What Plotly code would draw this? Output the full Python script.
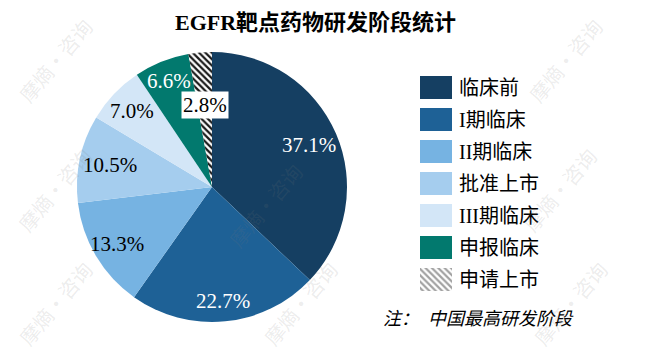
import math
import plotly.graph_objects as go

labels = ["临床前", "I期临床", "II期临床", "批准上市", "III期临床", "申报临床", "申请上市"]
values = [37.1, 22.7, 13.3, 10.5, 7.0, 6.6, 2.8]
colors = ["#153F62", "#1E6196", "#76B3E2", "#A5CDEE", "#D3E6F7", "#02796E", "#FFFFFF"]
text_colors = ["white", "white", "black", "black", "black", "white", "black"]
patterns = ["", "", "", "", "", "", "\\"]

title = "<b>EGFR靶点药物研发阶段统计</b>"
note = "<i>注：  中国最高研发阶段</i>"
watermark = "摩熵·咨询"

FONT = "Liberation Serif, Times New Roman, Noto Sans CJK SC, serif"
W, H = 660, 363
OFF = 8  # page body margin offset of the plot div


def fx(X):
    return (X - OFF) / W


def fy(Y):
    return 1 - (Y - OFF) / H


# pie geometry (screen pixels)
CX, CY, R = 212, 187, 135
label_radius = [0.78, 0.85, 0.82, 0.77, 0.82, 0.85, 0.61]

fig = go.Figure()
fig.add_trace(go.Pie(
    labels=labels,
    values=values,
    sort=False,
    direction="clockwise",
    rotation=0,
    textinfo="none",
    marker=dict(colors=colors, line=dict(width=0),
                pattern=dict(shape=patterns, fgcolor="#1a1a1a", bgcolor="white",
                             size=4.5, solidity=0.5)),
    domain=dict(x=[fx(CX - R), fx(CX + R)], y=[fy(CY + R), fy(CY - R)]),
    hoverinfo="label+value",
    showlegend=False,
))

# legend drawn as swatch bars on a hidden axis
fig.add_trace(go.Bar(
    y=labels,
    x=[1] * len(labels),
    orientation="h",
    width=0.72,
    marker=dict(color=colors, line=dict(width=0),
                pattern=dict(shape=patterns, fgcolor="#1a1a1a", bgcolor="white",
                             size=4.5, solidity=0.5)),
    hoverinfo="skip",
    showlegend=False,
))

annotations = [
    dict(text=title, x=fx(315), y=1.0, xref="paper", yref="paper",
         xanchor="center", yanchor="top",
         showarrow=False, font=dict(family=FONT, size=22, color="black")),
    dict(text=note, x=fx(478), y=fy(319), xref="paper", yref="paper",
         xanchor="center", yanchor="middle",
         showarrow=False, font=dict(family=FONT, size=18, color="black")),
]

total = sum(values)
cum = 0.0
for i, v in enumerate(values):
    mid = (cum + v / 2) / total * 2 * math.pi
    cum += v
    rr = label_radius[i] * R
    x = CX + rr * math.sin(mid)
    y = CY - rr * math.cos(mid)
    ann = dict(text="%.1f%%" % v, x=fx(x), y=fy(y), xref="paper", yref="paper",
               xanchor="center", yanchor="middle",
               showarrow=False, font=dict(family=FONT, size=21, color=text_colors[i]))
    if i == len(values) - 1:
        ann.update(bgcolor="white", borderpad=1)
    annotations.append(ann)

wm_pos = [(55, 60), (55, 190), (55, 303), (265, 205), (300, 303),
          (565, 60), (560, 190), (570, 303)]
for (x, y) in wm_pos:
    annotations.append(dict(text=watermark, x=fx(x), y=fy(y), xref="paper", yref="paper",
                            xanchor="center", yanchor="middle",
                            showarrow=False, textangle=-50,
                            font=dict(family="Noto Sans CJK SC", size=20, color="rgba(120,120,120,0.15)")))

row0, step = 87.5, 32
ytop = row0 - step / 2
ybot = row0 + step * (len(labels) - 1) + step / 2

fig.update_layout(
    width=W, height=H,
    margin=dict(l=0, r=0, t=0, b=0),
    paper_bgcolor="white",
    plot_bgcolor="rgba(0,0,0,0)",
    font=dict(family=FONT, color="black"),
    showlegend=False,
    xaxis=dict(domain=[fx(420), fx(452)], range=[0, 1], visible=False, fixedrange=True),
    yaxis=dict(domain=[fy(ybot), fy(ytop)], type="category",
               categoryorder="array", categoryarray=labels, autorange="reversed",
               side="right", showgrid=False, zeroline=False, showline=False, ticks="",
               ticklabelstandoff=6, tickfont=dict(family=FONT, size=20, color="black"),
               fixedrange=True),
    annotations=annotations,
)

fig.write_html("out.html")
